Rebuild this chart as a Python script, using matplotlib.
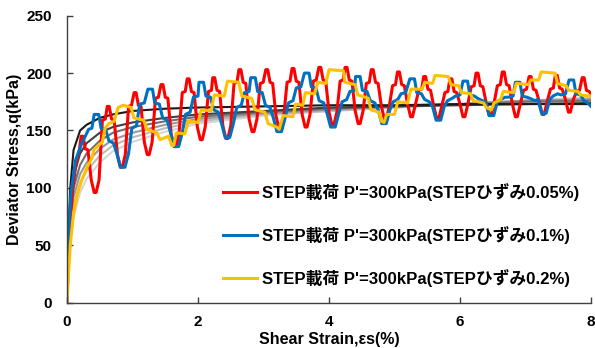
import matplotlib
matplotlib.use("Agg")
import matplotlib.pyplot as plt

plt.rcParams['font.family'] = ['Liberation Sans', 'Noto Sans CJK JP', 'DejaVu Sans']
plt.rcParams['font.weight'] = 'bold'

# monotonic reference curves (black -> light gray), shared strain points
ref_strain = [0, 0.02, 0.05, 0.1, 0.2, 0.3, 0.5, 0.7, 1.0, 1.5, 2, 3, 4, 5, 6, 7, 8]
ref_q = [
    [0, 55, 100, 133, 150, 155, 161, 164, 167, 169, 170, 171, 172, 172, 173, 173, 173],
    [0, 45, 85, 110, 130, 139, 148, 153, 157, 161, 164, 167, 170, 171, 172, 173, 174],
    [0, 40, 75, 100, 120, 130, 141, 148, 153, 158, 162, 166, 169, 171, 173, 175, 176],
    [0, 35, 68, 92, 112, 122, 134, 142, 148, 155, 160, 165, 168, 171, 173, 176, 177],
    [0, 30, 60, 84, 104, 115, 128, 137, 144, 152, 158, 164, 167, 170, 173, 176, 178],
    [0, 25, 52, 75, 96, 108, 122, 132, 140, 149, 156, 163, 167, 170, 173, 176, 179],
]
ref_colors = ['#1a1a1a', '#404040', '#707070', '#999999', '#bbbbbb', '#d5d5d5']

# STEP 0.05%
red_pts = [
    (0, 0), (0.02, 38), (0.05, 72), (0.09, 100), (0.13, 118), (0.16, 126), (0.19, 133),
    (0.215, 145), (0.245, 145), (0.28, 134), (0.32, 133), (0.37, 107), (0.415, 96), (0.445, 96), (0.49, 107), (0.54, 159), (0.585, 160),
    (0.615, 171), (0.645, 171), (0.68, 160), (0.72, 159), (0.77, 129), (0.815, 118), (0.845, 118), (0.89, 129), (0.94, 171), (0.985, 172),
    (1.025, 183), (1.055, 183), (1.09, 172), (1.13, 171), (1.18, 140), (1.225, 129), (1.255, 129), (1.30, 140), (1.35, 178), (1.395, 179),
    (1.435, 190), (1.465, 190), (1.50, 179), (1.54, 178), (1.59, 147), (1.635, 136), (1.665, 136), (1.71, 147), (1.76, 183), (1.805, 184),
    (1.835, 195), (1.865, 195), (1.90, 184), (1.94, 183), (1.99, 153), (2.035, 142), (2.065, 142), (2.11, 153), (2.16, 184), (2.205, 185),
    (2.225, 196), (2.255, 196), (2.29, 185), (2.33, 184), (2.38, 154), (2.425, 143), (2.455, 143), (2.50, 154), (2.55, 191), (2.595, 192),
    (2.625, 203), (2.655, 203), (2.69, 192), (2.73, 191), (2.78, 160), (2.825, 149), (2.855, 149), (2.90, 160), (2.95, 191), (2.995, 192),
    (3.035, 203), (3.065, 203), (3.10, 192), (3.14, 191), (3.19, 163), (3.235, 152), (3.265, 152), (3.31, 163), (3.36, 192), (3.405, 193),
    (3.435, 204), (3.465, 204), (3.50, 193), (3.54, 192), (3.59, 164), (3.635, 153), (3.665, 153), (3.71, 164), (3.76, 193), (3.805, 194),
    (3.845, 205), (3.875, 205), (3.91, 194), (3.95, 193), (4.00, 166), (4.045, 155), (4.075, 155), (4.12, 166), (4.17, 193), (4.215, 194),
    (4.245, 205), (4.275, 205), (4.31, 194), (4.35, 193), (4.40, 167), (4.445, 156), (4.475, 156), (4.52, 167), (4.57, 191), (4.615, 192),
    (4.645, 203), (4.675, 203), (4.71, 192), (4.75, 191), (4.80, 171), (4.845, 160), (4.875, 160), (4.92, 171), (4.97, 189), (5.015, 190),
    (5.045, 201), (5.075, 201), (5.11, 190), (5.15, 189), (5.20, 173), (5.245, 162), (5.275, 162), (5.32, 173), (5.37, 185), (5.415, 186),
    (5.445, 197), (5.475, 197), (5.51, 186), (5.55, 185), (5.60, 171), (5.645, 160), (5.675, 160), (5.72, 171), (5.77, 183), (5.815, 184),
    (5.845, 195), (5.875, 195), (5.91, 184), (5.95, 183), (6.00, 173), (6.045, 162), (6.075, 162), (6.12, 173), (6.17, 188), (6.215, 189),
    (6.245, 200), (6.275, 200), (6.31, 189), (6.35, 188), (6.40, 174), (6.445, 163), (6.475, 163), (6.52, 174), (6.57, 189), (6.615, 190),
    (6.645, 201), (6.675, 201), (6.71, 190), (6.75, 189), (6.80, 173), (6.845, 162), (6.875, 162), (6.92, 173), (6.97, 185), (7.015, 186),
    (7.055, 197), (7.085, 197), (7.12, 186), (7.16, 185), (7.21, 175), (7.255, 164), (7.285, 164), (7.33, 175), (7.38, 186), (7.425, 187),
    (7.455, 198), (7.485, 198), (7.52, 187), (7.56, 186), (7.61, 177), (7.655, 166), (7.685, 166), (7.73, 177), (7.78, 184), (7.825, 185),
    (7.865, 196), (7.895, 196), (7.93, 185), (7.97, 184), (8.0, 182),
]

# STEP 0.1%
blue_pts = [
    (0, 0), (0.02, 55), (0.06, 95), (0.13, 124), (0.22, 138), (0.28, 145), (0.33, 151), (0.38, 152),
    (0.415, 164), (0.485, 164), (0.52, 152), (0.59, 151), (0.64, 141), (0.71, 139), (0.76, 130), (0.815, 118), (0.885, 118), (0.94, 130), (0.99, 152), (1.06, 154), (1.11, 173), (1.18, 174),
    (1.235, 186), (1.305, 186), (1.34, 174), (1.41, 173), (1.46, 161), (1.53, 159), (1.58, 148), (1.635, 136), (1.705, 136), (1.76, 148), (1.81, 164), (1.88, 166), (1.93, 179), (2.00, 180),
    (2.015, 192), (2.085, 192), (2.12, 180), (2.19, 179), (2.24, 168), (2.31, 166), (2.36, 156), (2.415, 144), (2.485, 144), (2.54, 156), (2.59, 170), (2.66, 172), (2.71, 183), (2.78, 184),
    (2.805, 196), (2.875, 196), (2.91, 184), (2.98, 183), (3.03, 172), (3.10, 170), (3.15, 161), (3.205, 149), (3.275, 149), (3.33, 161), (3.38, 174), (3.45, 176), (3.50, 187), (3.57, 188),
    (3.625, 200), (3.695, 200), (3.73, 188), (3.80, 187), (3.85, 176), (3.92, 174), (3.97, 165), (4.025, 153), (4.095, 153), (4.15, 165), (4.20, 175), (4.27, 177), (4.32, 184), (4.39, 185),
    (4.405, 197), (4.475, 197), (4.51, 185), (4.58, 184), (4.63, 176), (4.70, 174), (4.75, 168), (4.805, 156), (4.875, 156), (4.93, 168), (4.98, 175), (5.05, 177), (5.10, 182), (5.17, 183),
    (5.235, 195), (5.305, 195), (5.34, 183), (5.41, 182), (5.46, 177), (5.53, 175), (5.58, 171), (5.635, 159), (5.705, 159), (5.76, 171), (5.81, 176), (5.88, 178), (5.93, 180), (6.00, 181),
    (6.045, 193), (6.115, 193), (6.15, 181), (6.22, 180), (6.27, 178), (6.34, 176), (6.39, 175), (6.445, 163), (6.515, 163), (6.57, 175), (6.62, 177), (6.69, 179), (6.74, 179), (6.81, 180),
    (6.845, 192), (6.915, 192), (6.95, 180), (7.02, 179), (7.07, 178), (7.14, 176), (7.19, 177), (7.245, 165), (7.315, 165), (7.37, 177), (7.42, 180), (7.49, 182), (7.54, 181), (7.61, 182),
    (7.665, 194), (7.735, 194), (7.77, 182), (7.84, 181), (7.89, 176), (7.95, 174), (8.0, 171),
]

# STEP 0.2%
yellow_pts = [
    (0, 0), (0.02, 22), (0.05, 50), (0.10, 78), (0.16, 95), (0.22, 106), (0.30, 117), (0.38, 126), (0.41, 133), (0.48, 137), (0.54, 140),
    (0.58, 152), (0.64, 156), (0.72, 158), (0.78, 170), (0.86, 172), (0.98, 170),
    (1.02, 161), (1.17, 159), (1.22, 151), (1.37, 148), (1.42, 142), (1.55, 145), (1.60, 137), (1.63, 137),
    (1.67, 148), (1.80, 147), (1.85, 158), (2.00, 157), (2.05, 168), (2.20, 167), (2.25, 181), (2.40, 180), (2.45, 193), (2.62, 192),
    (2.67, 180), (2.82, 178), (2.87, 168), (3.02, 166), (3.07, 156), (3.20, 153), (3.24, 151),
    (3.30, 163), (3.45, 162), (3.49, 173), (3.60, 172), (3.64, 183), (3.78, 182), (3.83, 192), (3.95, 191), (4.00, 203), (4.22, 202),
    (4.24, 192), (4.40, 190), (4.44, 181), (4.60, 178), (4.64, 168), (4.76, 166), (4.80, 158), (4.84, 157),
    (4.88, 164), (5.00, 164), (5.05, 175), (5.20, 174), (5.25, 186), (5.42, 186), (5.46, 192), (5.58, 191), (5.62, 198), (5.82, 197),
    (5.86, 190), (5.98, 189), (6.02, 183), (6.16, 182), (6.20, 176), (6.36, 174), (6.40, 170), (6.48, 168),
    (6.52, 174), (6.62, 177), (6.66, 184), (6.82, 183), (6.86, 191), (7.04, 190), (7.08, 194), (7.20, 194), (7.24, 201), (7.45, 200),
    (7.49, 191), (7.62, 189), (7.66, 185), (7.80, 184), (7.84, 181), (8.0, 180),
]

labels = ["STEP載荷 P'=300kPa(STEPひずみ0.05%)",
          "STEP載荷 P'=300kPa(STEPひずみ0.1%)",
          "STEP載荷 P'=300kPa(STEPひずみ0.2%)"]
colors = ['#FF0000', '#0070C0', '#FFC000']

fig = plt.figure(figsize=(5.95, 3.48), dpi=100)
ax = fig.add_axes([0.1126, 0.1302, 0.8807, 0.8247])

for qs, c in zip(reversed(ref_q), reversed(ref_colors)):
    ax.plot(ref_strain, qs, color=c, lw=1.5)

for pts, c, lab in zip([red_pts, blue_pts, yellow_pts], colors, labels):
    xs, ys = zip(*pts)
    ax.plot(xs, ys, color=c, lw=2.2, label=lab, solid_joinstyle='round')

ax.set_xlim(0, 8)
ax.set_ylim(0, 250)
ax.set_xticks([0, 2, 4, 6, 8])
ax.set_yticks([0, 50, 100, 150, 200, 250])
for s in ['top', 'right']:
    ax.spines[s].set_visible(False)
for s in ['left', 'bottom']:
    ax.spines[s].set_color('#404040')
    ax.spines[s].set_linewidth(1.0)
ax.tick_params(direction='in', length=4, width=1, color='#404040', labelsize=11)
ax.tick_params(axis='y', pad=11)
ax.tick_params(axis='x', pad=9)
for t in ax.get_xticklabels() + ax.get_yticklabels():
    t.set_fontweight('bold')

ax.set_xlabel("Shear Strain,εs(%)", fontsize=11.5, fontweight='bold')
ax.set_ylabel("Deviator Stress,q(kPa)", fontsize=11.5, fontweight='bold')
ax.xaxis.set_label_coords(0.5, -0.101)
ax.yaxis.set_label_coords(-0.086, 0.5)

leg = ax.legend(loc='center left', bbox_to_anchor=(0.2977, 0.236), frameon=False,
                fontsize=12.1, handlelength=2.0, handletextpad=0.35, labelspacing=1.47,
                borderpad=0, borderaxespad=0)
for t in leg.get_texts():
    t.set_fontweight('bold')

fig.savefig('out.png', dpi=100)
